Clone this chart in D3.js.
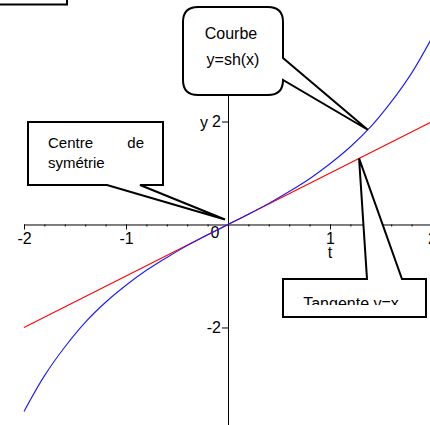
<!DOCTYPE html>
<html>
<head>
<meta charset="utf-8">
<script src="https://cdn.jsdelivr.net/npm/d3@7"></script>
<style>
  body { margin: 0; background: #fff; }
  svg { display: block; font-family: "Liberation Sans", Arial, sans-serif; }
</style>
</head>
<body>
<div id="chart"></div>
<script>
// sh(x), step 0.2
const xs = [-2, -1.8, -1.6, -1.4, -1.2, -1, -0.8, -0.6, -0.4, -0.2, 0,
            0.2, 0.4, 0.6, 0.8, 1, 1.2, 1.4, 1.6, 1.8, 2];
const shValues = [-3.63, -2.94, -2.38, -1.90, -1.51, -1.18, -0.89, -0.64, -0.41, -0.20, 0,
                  0.20, 0.41, 0.64, 0.89, 1.18, 1.51, 1.90, 2.38, 2.94, 3.63];
// tangent y = x at the origin
const tangentX = [-2, 2];
const tangentY = [-2, 2];

const xMajor = [-2, -1, 1, 2];
const xMinor = d3.range(-2, 2.001, 0.2);
const yMajor = [-2, 2];

const W = 430, H = 425;
const fmt = d => String(d); // plain hyphen, as in the original

const svg = d3.select("#chart")
  .append("svg")
  .attr("width", W)
  .attr("height", H);

const x = d3.scaleLinear().domain([-2, 2]).range([24, 432]);
const y = d3.scaleLinear().domain([-3.9, 3.63]).range([425.3, 37.6]);

// X axis: minor ticks then major ticks with labels
svg.append("g")
  .attr("transform", `translate(0,${y(0)})`)
  .call(d3.axisBottom(x).tickValues(xMinor).tickSize(2).tickSizeOuter(0).tickFormat(""))
  .call(g => g.selectAll("line,path").attr("stroke", "#000"));

svg.append("g")
  .attr("transform", `translate(0,${y(0)})`)
  .call(d3.axisBottom(x).tickValues(xMajor).tickSize(5).tickSizeOuter(0).tickFormat(fmt))
  .call(g => g.select(".domain").remove())
  .call(g => g.selectAll("line").attr("stroke", "#000"))
  .selectAll("text")
  .attr("font-size", "16px")
  .attr("font-family", "Liberation Sans, Arial, sans-serif")
  .attr("fill", "#000");

// Y axis
svg.append("g")
  .attr("transform", `translate(${x(0)},0)`)
  .call(d3.axisLeft(y).tickValues(yMajor).tickSize(6).tickPadding(1).tickSizeOuter(0).tickFormat(fmt))
  .call(g => g.selectAll("line,path").attr("stroke", "#000"))
  .selectAll("text")
  .attr("font-size", "16px")
  .attr("font-family", "Liberation Sans, Arial, sans-serif")
  .attr("fill", "#000");

// axis names and origin label
svg.append("text")
  .attr("x", x(0) - 24).attr("y", y(2) + 6)
  .attr("text-anchor", "middle")
  .attr("font-size", "16px")
  .text("y");

svg.append("text")
  .attr("x", x(1)).attr("y", y(0) + 34)
  .attr("text-anchor", "middle")
  .attr("font-size", "16px")
  .text("t");

svg.append("text")
  .attr("x", x(0) - 13).attr("y", y(0) + 14)
  .attr("text-anchor", "middle")
  .attr("font-size", "16px")
  .text("0");

// curves
const line = d3.line()
  .x(d => x(d[0]))
  .y(d => y(d[1]));

svg.append("path")
  .datum(d3.zip(tangentX, tangentY))
  .attr("d", line)
  .attr("fill", "none")
  .attr("stroke", "#ff0000")
  .attr("stroke-width", 1.1);

svg.append("path")
  .datum(d3.zip(xs, shValues))
  .attr("d", line.curve(d3.curveCatmullRom))
  .attr("fill", "none")
  .attr("stroke", "#1a1aff")
  .attr("stroke-width", 1.1);

// callouts
const callout = svg.append("g")
  .attr("fill", "#fff")
  .attr("stroke", "#000")
  .attr("stroke-width", 2)
  .attr("stroke-linejoin", "miter");

// partial box in the top-left corner
callout.append("path")
  .attr("fill", "none")
  .attr("d", "M0,4.5 H67 V-2");

// "Courbe y=sh(x)" rounded box, pointer on the right side
const tipC = [x(1.37), y(1.84)];
callout.append("path")
  .attr("d", `M198,7 H268 Q283,7 283,22 V58 L${tipC[0]},${tipC[1]} L283,80
              Q283,95 268,95 H198 Q183,95 183,80 V22 Q183,7 198,7 Z`);

// "Centre de symétrie" box, pointer from the bottom to the origin
const tipO = [x(0) - 3, y(0) - 5];
callout.append("path")
  .attr("d", `M28,122 H163 V185 H140 L${tipO[0]},${tipO[1]} L107,185 H28 Z`);

// "Tangente y=x" box, pointer from the top edge to the line
const tipT = [x(1.285), y(1.285)];
callout.append("path")
  .attr("d", `M283,279 H367 L${tipT[0]},${tipT[1]} L402,279 H426 V317 H283 Z`);

const labels = svg.append("g")
  .attr("font-size", "16px")
  .attr("fill", "#000");

labels.append("text").attr("x", 231).attr("y", 39).attr("text-anchor", "middle").text("Courbe");
labels.append("text").attr("x", 233).attr("y", 65).attr("text-anchor", "middle").text("y=sh(x)");

labels.append("text").attr("x", 48).attr("y", 148).attr("font-size", "15px").text("Centre");
labels.append("text").attr("x", 144).attr("y", 148).attr("font-size", "15px").attr("text-anchor", "end").text("de");
labels.append("text").attr("x", 48).attr("y", 168).attr("font-size", "15px").text("symétrie");

svg.append("clipPath").attr("id", "tclip")
  .append("rect").attr("x", 284).attr("y", 280).attr("width", 141).attr("height", 25);

labels.append("text")
  .attr("clip-path", "url(#tclip)")
  .attr("x", 351).attr("y", 309)
  .attr("text-anchor", "middle")
  .text("Tangente y=x");
</script>
</body>
</html>
